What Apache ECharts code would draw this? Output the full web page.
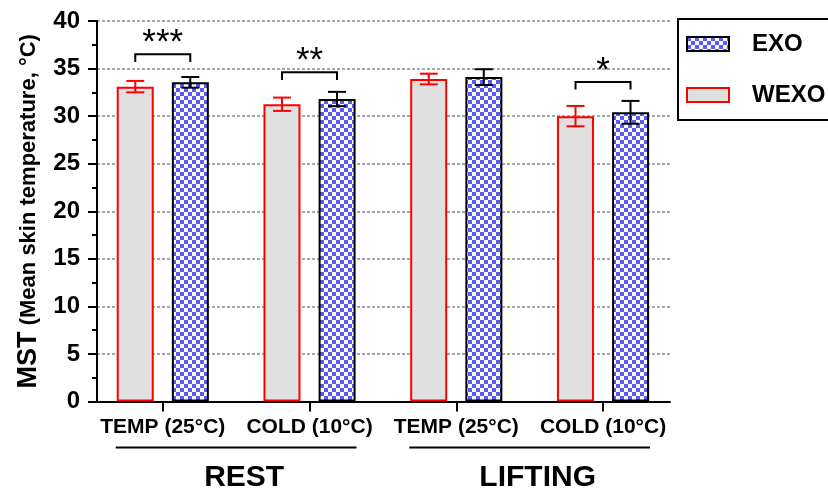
<!DOCTYPE html>
<html>
<head>
<meta charset="utf-8">
<script src="https://cdn.jsdelivr.net/npm/echarts@6/dist/echarts.min.js"></script>
<style>
  html, body { margin: 0; padding: 0; background: #fff; }
  #main { width: 828px; height: 490px; }
</style>
</head>
<body>
<div id="main"></div>
<script>
// categories and values
var categories = ['TEMP (25°C)', 'COLD (10°C)', 'TEMP (25°C)', 'COLD (10°C)'];
var wexo = [33.1, 31.25, 33.9, 30.0];
var wexoErr = [0.6, 0.7, 0.56, 1.07];
var exo = [33.55, 31.8, 34.1, 30.4];
var exoErr = [0.56, 0.75, 0.83, 1.2];
// significance brackets
var sigIndex = [0, 1, 3];
var sigText = ['***', '**', '*'];
var sigTop = [36.5, 34.6, 33.6];
var sigLeg = [35.7, 33.8, 32.8];
// phase groups under the axis
var phases = ['REST', 'LIFTING'];
var phaseStart = [0, 2];
var phaseEnd = [1, 3];
var yTicks = [0, 40, 5];

var FONT = "'Liberation Sans', Arial, sans-serif";
var chart = echarts.init(document.getElementById('main'));

// checker pattern for EXO
var tile = document.createElement('canvas');
tile.width = 8; tile.height = 8;
var tc = tile.getContext('2d');
tc.fillStyle = '#ffffff'; tc.fillRect(0, 0, 8, 8);
tc.fillStyle = '#5a5af6';
tc.fillRect(0, 0, 4, 4); tc.fillRect(4, 4, 4, 4);
var checker = { image: tile, repeat: 'repeat' };

function errData(vals, errs) {
    var d = [];
    for (var i = 0; i < vals.length; i++) d.push([i, vals[i], errs[i]]);
    return d;
}

function errRender(offset, color) {
    return function (params, api) {
        var i = api.value(0);
        var hi = api.coord([i, api.value(1) + api.value(2)]);
        var lo = api.coord([i, api.value(1) - api.value(2)]);
        var x = hi[0] + offset;
        var st = { stroke: color, lineWidth: 2 };
        return {
            type: 'group',
            children: [
                { type: 'line', shape: { x1: x, y1: hi[1], x2: x, y2: lo[1] }, style: st },
                { type: 'line', shape: { x1: x - 9, y1: hi[1], x2: x + 9, y2: hi[1] }, style: st },
                { type: 'line', shape: { x1: x - 9, y1: lo[1], x2: x + 9, y2: lo[1] }, style: st }
            ]
        };
    };
}

var sigData = [];
for (var k = 0; k < sigIndex.length; k++) sigData.push([sigIndex[k], sigTop[k], sigLeg[k]]);

var phaseData = [];
for (var p = 0; p < phases.length; p++) phaseData.push([phaseStart[p], phaseEnd[p]]);

var option = {
    backgroundColor: '#fff',
    animation: false,
    legend: {
        data: [
            { name: 'EXO', itemStyle: { color: checker, borderColor: '#000', borderWidth: 2 } },
            { name: 'WEXO', itemStyle: { color: '#e0e0e0', borderColor: '#ff0000', borderWidth: 2 } }
        ],
        orient: 'vertical',
        left: 678,
        top: 19,
        padding: [13, 8, 13, 8],
        itemGap: 27,
        itemWidth: 42,
        itemHeight: 14,
        borderColor: '#000',
        borderWidth: 2,
        icon: 'rect',
        textStyle: {
            color: '#000', fontFamily: FONT, fontWeight: 'bold', fontSize: 24,
            lineHeight: 24, padding: [0, 0, 0, 18]
        }
    },
    grid: [
        { left: 89.4, right: 151.6, top: 21, bottom: 88.5 },
        { left: 97, right: 158, top: 21, bottom: 88.5 }
    ],
    xAxis: [
        {
            type: 'category', gridIndex: 0, data: categories,
            axisLine: { show: false },
            axisTick: { show: true, alignWithLabel: true, length: 10, lineStyle: { color: '#000', width: 2 } },
            axisLabel: { color: '#000', fontFamily: FONT, fontWeight: 'bold', fontSize: 21, margin: 15, interval: 0 }
        },
        {
            type: 'value', gridIndex: 1, min: 0, max: 1,
            axisLine: { show: true, onZero: false, lineStyle: { color: '#000', width: 2 } },
            axisTick: { show: false }, axisLabel: { show: false }, splitLine: { show: false }
        }
    ],
    yAxis: [
        {
            type: 'value', gridIndex: 0, min: yTicks[0], max: yTicks[1], interval: yTicks[2],
            show: false
        },
        {
            type: 'value', gridIndex: 1, min: yTicks[0], max: yTicks[1], interval: yTicks[2],
            axisLine: { show: true, lineStyle: { color: '#000', width: 2 } },
            axisTick: { show: true, length: 9, lineStyle: { color: '#000', width: 2 } },
            minorTick: { show: true, splitNumber: 2, length: 5, lineStyle: { color: '#000', width: 2 } },
            axisLabel: { color: '#000', fontFamily: FONT, fontWeight: 'bold', fontSize: 24, margin: 17 },
            splitLine: { show: true, lineStyle: { color: '#8a8a8a', width: 1.5, type: [3, 2] } },
            name: '{big|MST}{small| (Mean skin temperature, °C)}',
            nameLocation: 'middle',
            nameGap: 54,
            nameTextStyle: {
                rich: {
                    big: { fontFamily: FONT, fontWeight: 'bold', fontSize: 27, color: '#000' },
                    small: { fontFamily: FONT, fontWeight: 'bold', fontSize: 22, color: '#000' }
                }
            }
        }
    ],
    series: [
        {
            name: 'WEXO', type: 'bar', xAxisIndex: 0, yAxisIndex: 0,
            data: wexo, barWidth: 37, barGap: '49%',
            itemStyle: { color: '#e0e0e0', borderColor: '#ff0000', borderWidth: 2 }
        },
        {
            name: 'EXO', type: 'bar', xAxisIndex: 0, yAxisIndex: 0,
            data: exo, barWidth: 37, barGap: '49%',
            itemStyle: { color: checker, borderColor: '#000', borderWidth: 2 }
        },
        {
            type: 'custom', xAxisIndex: 0, yAxisIndex: 0, z: 5,
            data: errData(wexo, wexoErr), renderItem: errRender(-27.5, '#ff0000')
        },
        {
            type: 'custom', xAxisIndex: 0, yAxisIndex: 0, z: 5,
            data: errData(exo, exoErr), renderItem: errRender(27.5, '#000')
        },
        {
            // significance brackets and stars
            type: 'custom', xAxisIndex: 0, yAxisIndex: 0, z: 5,
            data: sigData,
            renderItem: function (params, api) {
                var i = api.value(0);
                var t = api.coord([i, api.value(1)]);
                var l = api.coord([i, api.value(2)]);
                var x1 = t[0] - 27.5, x2 = t[0] + 27.5;
                return {
                    type: 'group',
                    children: [
                        { type: 'polyline', shape: { points: [[x1, l[1]], [x1, t[1]], [x2, t[1]], [x2, l[1]]] },
                          style: { stroke: '#000', lineWidth: 2, fill: null } },
                        { type: 'text', x: t[0], y: t[1] - 11,
                          style: { text: sigText[params.dataIndex], fill: '#000', font: '35px ' + FONT,
                                   textAlign: 'center', textVerticalAlign: 'middle' } }
                    ]
                };
            }
        },
        {
            // REST / LIFTING group labels
            type: 'custom', xAxisIndex: 0, yAxisIndex: 0, z: 5,
            data: phaseData,
            renderItem: function (params, api) {
                var a = api.coord([api.value(0), 0]);
                var b = api.coord([api.value(1), 0]);
                var y = a[1] + 46;
                return {
                    type: 'group',
                    children: [
                        { type: 'line', shape: { x1: a[0] - 47, y1: y, x2: b[0] + 47, y2: y },
                          style: { stroke: '#000', lineWidth: 2 } },
                        { type: 'text', x: (a[0] + b[0]) / 2 + 8, y: a[1] + 76,
                          style: { text: phases[params.dataIndex], fill: '#000', font: 'bold 30px ' + FONT,
                                   textAlign: 'center', textVerticalAlign: 'middle' } }
                    ]
                };
            }
        }
    ]
};
chart.setOption(option);
</script>
</body>
</html>
